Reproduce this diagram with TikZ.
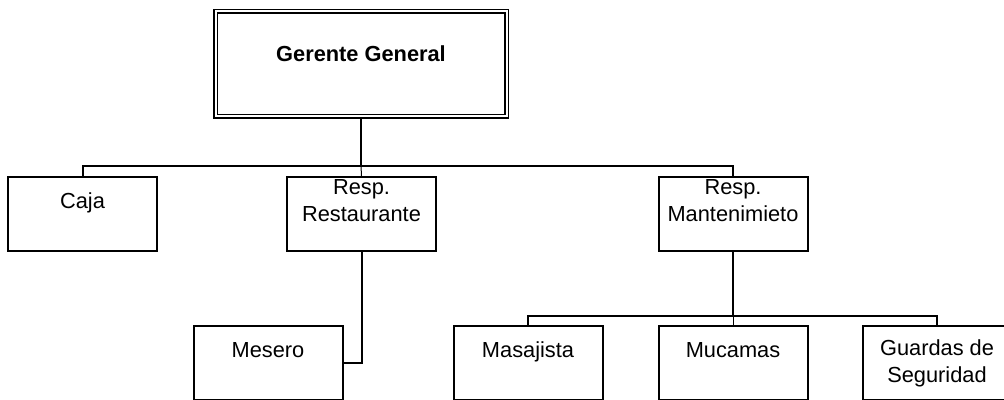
\documentclass[tikz,border=0pt]{standalone}
\usepackage{fontspec}
\setmainfont{Liberation Sans}
\usetikzlibrary{positioning}
\tikzset{
every node/.style={font=\fontsize{10.9}{13.5}\selectfont},
orgbox/.style={rectangle, draw, line width=1pt, align=center, inner sep=0pt,
  minimum width=74.5pt, minimum height=37pt, fill=white},
topbox/.style={rectangle, draw, line width=0.8pt, double, double distance=1pt,
  align=center, minimum width=145.5pt, minimum height=52.5pt},
conn/.style={line width=1pt},
thinconn/.style={line width=0.5pt}
}

\begin{document}
\begin{tikzpicture}[x=0.5pt, y=-0.5pt]
\useasboundingbox (0,0) rectangle (1004,400);

\node[topbox] (gerente) at (361,64) {\textbf{Gerente General}\\[-3pt]~};

\node[orgbox] (caja) at (82.5,214) {Caja\\~};
\node[orgbox] (resta) at (361.5,214) {Resp.\\Restaurante\\~};
\node[orgbox] (mant) at (733,214) {Resp.\\Mantenimieto\\~};

\node[orgbox, below=36.5pt of mant] (mucamas) {Mucamas\\~};
\node[orgbox, left=27pt of mucamas] (masaj) {Masajista\\~};
\node[orgbox, right=26.5pt of mucamas] (guardas) {Guardas de\\Seguridad};
\node[orgbox, left=54.5pt of masaj] (mesero) {Mesero\\~};

\coordinate (bar1) at (361,166);
\coordinate (bar2) at (733,316);

\draw[conn] (gerente.south) -- (bar1);
\foreach \n in {caja,mant}
  \draw[conn] (\n.north) |- (bar1);
\draw[thinconn] (resta.north) -- (bar1);
\draw[conn] (resta.south) |- (mesero.east);

\draw[conn] (mant.south) -- (bar2);
\foreach \n in {masaj,guardas}
  \draw[conn] (\n.north) |- (bar2);
\draw[thinconn] (mucamas.north) -- (bar2);
\end{tikzpicture}
\end{document}
